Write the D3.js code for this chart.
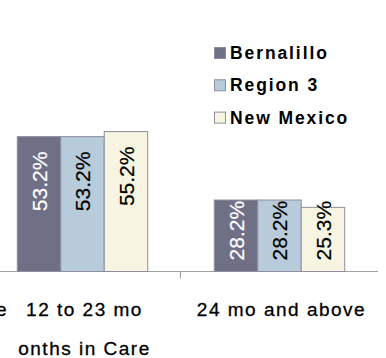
<!DOCTYPE html>
<html>
<head>
<meta charset="utf-8">
<script src="https://cdn.jsdelivr.net/npm/d3@7"></script>
<style>
  html, body { margin: 0; padding: 0; background: #fff; }
  svg { display: block; }
  text { font-family: Arial, "Liberation Sans", sans-serif; }
</style>
</head>
<body>
<svg id="chart" width="386" height="358"></svg>
<script>
// Categories (time in care) and the wrapped lines of their axis labels
const categories = ["12 to 23 months in Care", "24 mo and above"];
const categoryLines = [["12 to 23 mo", "onths in Care"], ["24 mo and above"]];
// Tail of the previous category's label, which runs off the left edge
const leadingLabelTail = "e";

// Series and their percentages per category
const seriesNames = ["Bernalillo", "Region 3", "New Mexico"];
const bernalillo = [53.2, 28.2];
const region3 = [53.2, 28.2];
const newMexico = [55.2, 25.3];
const seriesValues = [bernalillo, region3, newMexico];

const colors = ["#6f6f86", "#b8cbdb", "#f7f5e1"];
const labelColors = ["#ffffff", "#000000", "#000000"];

const svg = d3.select("#chart");

const baseY = 271.5;
const y = d3.scaleLinear().domain([0, 100]).range([baseY, baseY - 253.5]);

const x = d3.scaleBand().domain(categories).range([-16, 378]).paddingInner(0).paddingOuter(0);
const bw = x.bandwidth();
const inner = d3.scaleBand().domain(seriesNames).range([bw * 0.169, bw * 0.831]).paddingInner(0);

// Axis baseline
svg.append("line")
  .attr("x1", 0).attr("x2", x.range()[1])
  .attr("y1", baseY).attr("y2", baseY)
  .attr("stroke", "#a0a0a0").attr("stroke-width", 1.2);

// Tick marks between categories
svg.selectAll("line.tick")
  .data(categories.slice(1))
  .join("line")
  .attr("class", "tick")
  .attr("x1", d => x(d) - 0.5).attr("x2", d => x(d) - 0.5)
  .attr("y1", baseY).attr("y2", baseY + 7)
  .attr("stroke", "#a0a0a0").attr("stroke-width", 1.2);

// Bars
const rows = [];
categories.forEach((c, ci) => {
  seriesNames.forEach((s, si) => {
    rows.push({ c, s, si, v: seriesValues[si][ci] });
  });
});

const bars = svg.append("g").selectAll("g")
  .data(rows)
  .join("g");

bars.append("rect")
  .attr("x", d => x(d.c) + inner(d.s))
  .attr("y", d => y(d.v))
  .attr("width", inner.bandwidth())
  .attr("height", d => baseY - y(d.v))
  .attr("fill", d => colors[d.si])
  .attr("stroke", "#8e8e9c")
  .attr("stroke-width", 1);

// Rotated value labels, placed near the bar top or lifted off the axis when the bar is short
const labelSize = 21;
bars.append("text")
  .attr("transform", d => {
    const cx = x(d.c) + inner(d.s) + inner.bandwidth() / 2 + labelSize * 0.36;
    const top = y(d.v);
    const textLen = labelSize * 2.84;
    const endY = Math.min(top + 15, baseY - 11 - textLen);
    return `translate(${cx},${endY}) rotate(-90)`;
  })
  .attr("text-anchor", "end")
  .attr("font-size", labelSize)
  .attr("fill", d => labelColors[d.si])
  .attr("stroke", d => labelColors[d.si])
  .attr("stroke-width", 0.2)
  .text(d => d.v.toFixed(1) + "%");

// Category labels
const catG = svg.append("g")
  .attr("fill", "#000")
  .attr("stroke", "#000")
  .attr("stroke-width", 0.3);
categories.forEach((c, ci) => {
  categoryLines[ci].forEach((line, li) => {
    catG.append("text")
      .attr("x", x(c) + bw / 2 + 2)
      .attr("y", 316 + li * 39)
      .attr("text-anchor", "middle")
      .attr("font-size", 19)
      .attr("letter-spacing", 1.5)
      .text(line);
  });
});
catG.append("text")
  .attr("x", 6.5).attr("y", 316)
  .attr("text-anchor", "end")
  .attr("font-size", 19)
  .text(leadingLabelTail);

// Legend
const legend = svg.append("g");
seriesNames.forEach((s, i) => {
  const gy = 47.5 + i * 32.3;
  legend.append("rect")
    .attr("x", 214.5).attr("y", gy)
    .attr("width", 11).attr("height", 11)
    .attr("fill", colors[i])
    .attr("stroke", "#8e8e9c").attr("stroke-width", 1);
  legend.append("text")
    .attr("x", 230).attr("y", gy + 11.5)
    .attr("font-size", 17.5)
    .attr("font-weight", "bold")
    .attr("letter-spacing", 1.9)
    .attr("fill", "#000")
    .text(s);
});
</script>
</body>
</html>
